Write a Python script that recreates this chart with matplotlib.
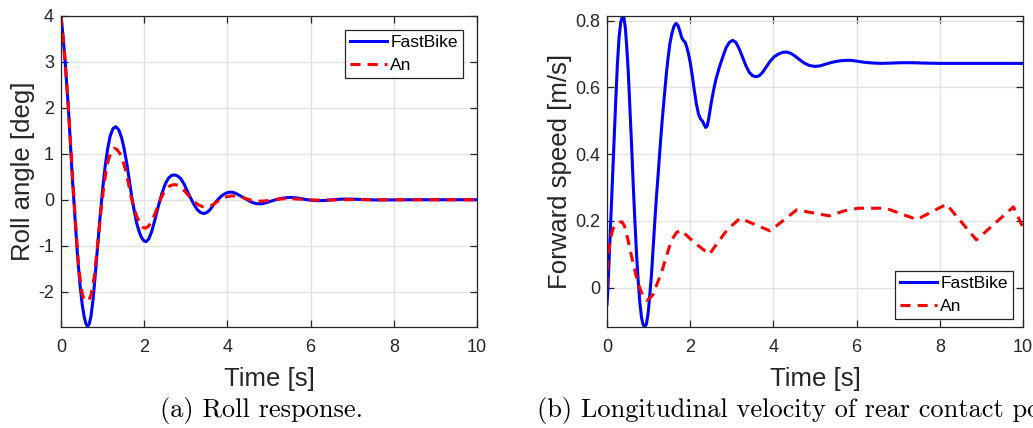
import matplotlib
matplotlib.use("Agg")
import matplotlib.pyplot as plt
from matplotlib.ticker import FixedLocator, FuncFormatter

plt.rcParams['font.family'] = ['Liberation Sans', 'DejaVu Sans']
plt.rcParams['axes.unicode_minus'] = False

# ---- Roll response: time [s] and roll angle [deg] ----
roll_fast_t = [0.00, 0.05, 0.10, 0.18, 0.27, 0.35, 0.40, 0.46, 0.51, 0.56, 0.60, 0.64,
               0.68, 0.72, 0.77, 0.82, 0.88, 0.94, 1.00, 1.06, 1.12, 1.18, 1.25, 1.32,
               1.39, 1.46, 1.52, 1.58, 1.64, 1.70, 1.76, 1.82, 1.88, 1.94, 2.00, 2.05,
               2.11, 2.18, 2.26, 2.34, 2.42, 2.50, 2.58, 2.66, 2.73, 2.80, 2.88, 2.96,
               3.04, 3.12, 3.20, 3.28, 3.36, 3.43, 3.50, 3.58, 3.66, 3.74, 3.82, 3.90,
               3.98, 4.06, 4.14, 4.22, 4.30, 4.38, 4.46, 4.55, 4.65, 4.75, 4.85, 4.95,
               5.05, 5.18, 5.30, 5.42, 5.52, 5.62, 5.74, 5.86, 5.98, 6.10, 6.22, 6.36,
               6.50, 6.65, 6.80, 6.95, 7.10, 7.30, 7.55, 7.80, 8.10, 8.50, 9.00, 10.00]
roll_fast = [4.00, 3.55, 3.00, 1.96, 0.51, -0.58, -1.25, -1.88, -2.28, -2.56, -2.70, -2.76,
             -2.70, -2.54, -2.18, -1.67, -1.02, -0.36, 0.22, 0.72, 1.10, 1.38, 1.55, 1.59,
             1.52, 1.34, 1.10, 0.80, 0.44, 0.07, -0.24, -0.51, -0.70, -0.83, -0.90, -0.91,
             -0.85, -0.69, -0.43, -0.14, 0.12, 0.33, 0.47, 0.53, 0.54, 0.52, 0.46, 0.34,
             0.18, 0.03, -0.11, -0.22, -0.28, -0.30, -0.28, -0.22, -0.12, -0.03, 0.05, 0.11,
             0.15, 0.165, 0.16, 0.13, 0.09, 0.05, 0.01, -0.04, -0.075, -0.09, -0.085, -0.06,
             -0.03, 0.005, 0.03, 0.045, 0.05, 0.045, 0.03, 0.01, -0.008, -0.018, -0.02, -0.015,
             -0.005, 0.008, 0.015, 0.015, 0.01, 0.003, -0.004, -0.005, -0.002, 0.001, 0.0, 0.0]

roll_an_t = [0.00, 0.04, 0.08, 0.16, 0.26, 0.35, 0.43, 0.51, 0.56, 0.62, 0.67, 0.72,
             0.80, 0.90, 0.96, 1.02, 1.08, 1.14, 1.21, 1.28, 1.35, 1.42, 1.49, 1.56,
             1.62, 1.68, 1.75, 1.82, 1.90, 1.97, 2.03, 2.10, 2.18, 2.26, 2.34, 2.42,
             2.50, 2.58, 2.66, 2.74, 2.82, 2.90, 3.00, 3.10, 3.20, 3.30, 3.40, 3.48,
             3.56, 3.66, 3.76, 3.88, 4.00, 4.12, 4.24, 4.36, 4.48, 4.60, 4.72, 4.85,
             5.00, 5.15, 5.30, 5.45, 5.60, 5.80, 6.00, 6.20, 6.50, 7.00, 7.50, 8.00, 10.00]
roll_an = [4.00, 3.65, 3.25, 2.25, 0.80, -0.51, -1.52, -2.05, -2.18, -2.21, -2.18, -2.08,
           -1.67, -0.80, -0.25, 0.22, 0.60, 0.87, 1.05, 1.12, 1.09, 1.00, 0.84, 0.62,
           0.36, 0.08, -0.17, -0.36, -0.52, -0.60, -0.62, -0.58, -0.47, -0.30, -0.11, 0.07,
           0.20, 0.28, 0.32, 0.33, 0.31, 0.26, 0.16, 0.06, -0.04, -0.11, -0.15, -0.16,
           -0.15, -0.10, -0.04, 0.03, 0.07, 0.085, 0.08, 0.05, 0.015, -0.015, -0.03, -0.03,
           -0.015, 0.005, 0.02, 0.025, 0.02, 0.008, -0.003, -0.008, -0.004, 0.003, 0.001, 0.0, 0.0]

# ---- Longitudinal velocity: time [s] and forward speed [m/s] ----
speed_fast_t = [0.00, 0.02, 0.05, 0.09, 0.13, 0.17, 0.21, 0.25, 0.29, 0.33, 0.37, 0.40,
                0.44, 0.47, 0.51, 0.55, 0.59, 0.63, 0.67, 0.71, 0.75, 0.79, 0.83, 0.87,
                0.91, 0.95, 0.99, 1.03, 1.07, 1.11, 1.15, 1.19, 1.23, 1.27, 1.31, 1.35,
                1.39, 1.43, 1.47, 1.51, 1.56, 1.61, 1.66, 1.71, 1.76, 1.80, 1.84, 1.88,
                1.92, 1.96, 2.00, 2.05, 2.10, 2.15, 2.20, 2.25, 2.29, 2.33, 2.37, 2.41,
                2.45, 2.50, 2.56, 2.62, 2.70, 2.78, 2.86, 2.94, 3.02, 3.10, 3.18, 3.26,
                3.34, 3.42, 3.50, 3.58, 3.66, 3.74, 3.82, 3.92, 4.02, 4.12, 4.22, 4.32,
                4.42, 4.52, 4.62, 4.74, 4.86, 4.98, 5.10, 5.24, 5.40, 5.56, 5.72, 5.88,
                6.04, 6.20, 6.40, 6.60, 6.85, 7.10, 7.35, 7.60, 8.00, 8.50, 9.00, 10.00]
speed_fast = [-0.05, -0.01, 0.08, 0.20, 0.32, 0.44, 0.56, 0.67, 0.75, 0.795, 0.812, 0.814,
              0.78, 0.73, 0.65, 0.54, 0.43, 0.31, 0.20, 0.10, 0.02, -0.045, -0.09, -0.112,
              -0.118, -0.108, -0.075, -0.02, 0.04, 0.12, 0.20, 0.275, 0.34, 0.41, 0.475, 0.535,
              0.59, 0.645, 0.69, 0.73, 0.762, 0.783, 0.792, 0.785, 0.765, 0.748, 0.740, 0.735,
              0.72, 0.70, 0.675, 0.635, 0.59, 0.55, 0.52, 0.505, 0.50, 0.49, 0.48, 0.485,
              0.51, 0.55, 0.59, 0.625, 0.66, 0.69, 0.718, 0.735, 0.741, 0.735, 0.715, 0.69,
              0.665, 0.645, 0.635, 0.632, 0.635, 0.645, 0.66, 0.678, 0.692, 0.700, 0.705, 0.706,
              0.702, 0.694, 0.684, 0.673, 0.666, 0.663, 0.664, 0.669, 0.675, 0.679, 0.681, 0.681,
              0.678, 0.675, 0.673, 0.672, 0.673, 0.674, 0.674, 0.673, 0.672, 0.672, 0.672, 0.672]

speed_an_t = [0.00, 0.02, 0.07, 0.14, 0.22, 0.30, 0.36, 0.42, 0.50, 0.57, 0.63, 0.70,
              0.78, 0.86, 0.95, 1.03, 1.11, 1.20, 1.31, 1.43, 1.55, 1.67, 1.78, 2.10,
              2.46, 2.88, 3.20, 3.92, 4.56, 5.34, 5.70, 6.04, 6.70, 7.45, 8.16, 8.88,
              9.77, 10.00]
speed_an = [0.00, 0.08, 0.14, 0.175, 0.19, 0.196, 0.197, 0.185, 0.145, 0.105, 0.072, 0.035,
            0.002, -0.025, -0.038, -0.032, -0.02, 0.01, 0.045, 0.095, 0.142, 0.165, 0.172, 0.135,
            0.100, 0.172, 0.208, 0.170, 0.233, 0.215, 0.230, 0.238, 0.238, 0.204, 0.250, 0.143,
            0.242, 0.180]

time_ticks = [0, 2, 4, 6, 8, 10]
roll_ticks = [-2, -1, 0, 1, 2, 3, 4]
speed_ticks = [0, 0.2, 0.4, 0.6, 0.8]
series_names = ["FastBike", "An"]
captions = ["(a) Roll response.", "(b) Longitudinal velocity of rear contact point."]

AX_COLOR = '#262626'
GRID_COLOR = '#e3e3e3'
DASH = (0, (3.3, 2.3))


def style_axes(ax, yticks):
    ax.set_xlim(0, 10)
    ax.xaxis.set_major_locator(FixedLocator(time_ticks))
    ax.yaxis.set_major_locator(FixedLocator(yticks))
    fmt = FuncFormatter(lambda v, p: ('%g' % round(v, 6)).replace('\u2212', '-'))
    ax.xaxis.set_major_formatter(fmt)
    ax.yaxis.set_major_formatter(fmt)
    ax.grid(True, color=GRID_COLOR, linewidth=1.0)
    ax.set_axisbelow(True)
    for s in ax.spines.values():
        s.set_color(AX_COLOR)
        s.set_linewidth(0.9)
    ax.tick_params(direction='in', top=True, right=True, length=5, width=0.9,
                   color=AX_COLOR, labelcolor=AX_COLOR, labelsize=13)
    ax.tick_params(axis='x', pad=8.5)
    ax.tick_params(axis='y', pad=5)
    ax.set_xlabel("Time [s]", fontsize=18.5, color=AX_COLOR, labelpad=8)


def add_legend(ax, loc, anchor):
    leg = ax.legend(loc=loc, bbox_to_anchor=anchor, fontsize=12.5,
                    handlelength=2.1, handletextpad=0.2, borderpad=0.3,
                    labelspacing=0.42, fancybox=False, framealpha=1, borderaxespad=0)
    leg.get_frame().set_edgecolor(AX_COLOR)
    leg.get_frame().set_linewidth(0.9)
    return leg


fig = plt.figure(figsize=(10.33, 4.28), dpi=100)
ax1 = fig.add_axes([61 / 1033, 1 - 327 / 428, 416 / 1033, 311 / 428])
ax2 = fig.add_axes([607 / 1033, 1 - 327 / 428, 416 / 1033, 311 / 428])

ax1.plot(roll_fast_t, roll_fast, color='#0000ff', linewidth=2.2, label=series_names[0])
ax1.plot(roll_an_t, roll_an, color='#ff0000', linewidth=2.2, linestyle=DASH,
         label=series_names[1])
style_axes(ax1, roll_ticks)
ax1.set_ylim(-2.77, 4.0)
ax1.set_ylabel("Roll angle [deg]", fontsize=18.5, color=AX_COLOR, labelpad=2)
add_legend(ax1, 'upper right', (0.966, 0.955))

ax2.plot(speed_fast_t, speed_fast, color='#0000ff', linewidth=2.2, label=series_names[0])
ax2.plot(speed_an_t, speed_an, color='#ff0000', linewidth=2.2, linestyle=DASH,
         label=series_names[1])
style_axes(ax2, speed_ticks)
ax2.set_ylim(min(speed_fast), max(speed_fast))
ax2.set_ylabel("Forward speed [m/s]", fontsize=18.5, color=AX_COLOR, labelpad=2)
add_legend(ax2, 'lower right', (0.976, 0.026))

cap_font = ['cmr10', 'DejaVu Serif']
fig.text(262 / 1033, 1 - 410 / 428, captions[0], ha='center', va='center',
         fontsize=19, family=cap_font, color='black')
fig.text(537 / 1033, 1 - 410 / 428, captions[1], ha='left', va='center',
         fontsize=19, family=cap_font, color='black')

fig.savefig("out.png", dpi=100)
